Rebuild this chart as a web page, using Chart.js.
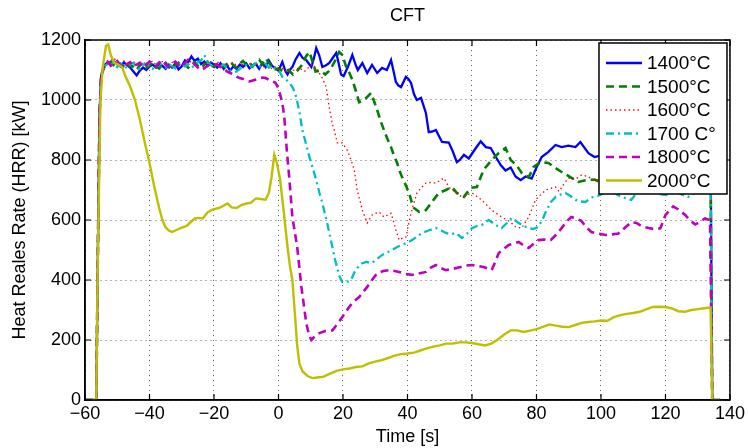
<!DOCTYPE html>
<html lang="en">
<head>
    <meta charset="UTF-8">
    <title>CFT</title>
    <style>
        body {
            margin: 0;
            padding: 0;
            background-color: #fff;
        }

        canvas {
            display: block;
        }
    </style>
</head>
<body>
    <canvas id="hrrChart" width="748" height="448"></canvas>

    <script src="https://cdn.jsdelivr.net/npm/chart.js"></script>
    <script>
        // series labels, same order as the legend
        const seriesNames = ['1400°C', '1500°C', '1600°C', '1700 C°', '1800°C', '2000°C'];

        const xTicks = { min: -60, max: 140, step: 20 };
        const yTicks = { min: 0, max: 1200, step: 200 };

        // [time s, HRR kW] pairs
        const hrr1400 = [[-60,0],[-56.5,0],[-56,500],[-55.5,950],[-55,1080],
            [-54,1115],[-53,1125],[-52,1118],[-51,1128],[-50,1120],[-49,1112],[-48,1125],[-47,1118],[-46,1108],[-45,1095],
            [-44,1082],[-43,1098],[-42,1108],[-41,1100],[-40,1112],[-39,1118],[-38,1108],[-37,1120],[-36,1114],[-35,1104],
            [-34,1118],[-33,1108],[-32,1122],[-31,1102],[-30,1112],[-29,1132],[-28,1126],[-27,1145],[-26,1130],[-25,1138],
            [-24,1120],[-23,1128],[-22,1114],[-21,1125],[-20,1118],[-19,1108],[-18,1122],[-17,1104],[-16,1116],[-15,1098],
            [-14,1112],[-13,1104],[-12,1118],[-11,1110],[-10,1122],[-9,1106],[-8,1115],[-7,1120],[-6,1104],[-5,1124],
            [-4,1110],[-3,1132],[-2,1114],[-1,1106],[0,1098],[1.2,1127],[2.2,1095],[2.8,1085],[3.5,1100],[4.3,1110],
            [5.3,1135],[6.5,1157],[7.5,1140],[8.6,1133],[9.5,1120],[10.2,1110],[11,1140],[11.7,1173],[12.6,1150],[13.6,1110],
            [14.6,1115],[15.7,1123],[16.8,1140],[17.9,1157],[18.5,1130],[19.4,1085],[20.2,1080],[21.5,1110],[22.9,1150],[24,1115],
            [24.6,1100],[26,1123],[27.5,1090],[29,1117],[30.6,1090],[32.1,1107],[33.6,1100],[34.9,1133],[35.8,1090],[36.4,1060],
            [37.2,1048],[38,1043],[39.5,1077],[40.3,1070],[41.1,1057],[42,1020],[42.9,1000],[44.2,1007],[45.7,957],[46.6,893],
            [47.8,895],[48.8,900],[50.7,860],[52.8,858],[54,830],[55.3,793],[56.2,800],[57.5,817],[59,805],[61.2,840],
            [62.7,862],[64.3,843],[65.8,840],[67.4,810],[68.9,783],[70.4,765],[72,775],[73.5,745],[75.1,733],[76.6,745],
            [78.5,738],[80,775],[81.6,810],[83.7,827],[85.9,850],[87.8,843],[89.9,848],[92.1,843],[93.6,860],[96.1,823],
            [98,810],[100,815],[102,805],[104,825],[106,800],[108,815],[110,790],[112,810],[114,830],[116,815],
            [118,840],[120,820],[122,810],[124,835],[126,820],[128,805],[130,825],[132,815],[134,820],[134.5,0],[137,0]];

        const hrr1500 = [[-60,0],[-56.5,0],[-56,500],[-55.5,950],[-55,1080],
            [-54,1110],[-53,1122],[-52,1128],[-51,1115],[-50,1108],[-49,1120],[-48,1112],[-47,1104],[-46,1118],[-45,1110],
            [-44,1100],[-43,1115],[-42,1122],[-41,1108],[-40,1114],[-39,1126],[-38,1112],[-37,1105],[-36,1118],[-35,1124],
            [-34,1110],[-33,1102],[-32,1116],[-31,1124],[-30,1112],[-29,1118],[-28,1108],[-27,1120],[-26,1126],[-25,1114],
            [-24,1106],[-23,1118],[-22,1128],[-21,1116],[-20,1110],[-19,1120],[-18,1126],[-17,1112],[-16,1120],[-15,1128],
            [-14,1116],[-13,1108],[-12,1122],[-11,1130],[-10,1118],[-9,1124],[-8,1112],[-7,1126],[-6,1134],[-5,1120],
            [-4,1138],[-3,1125],[-2,1110],[-1,1102],[0,1105],[1.5,1095],[3,1100],[4.5,1085],[6,1100],[7.5,1120],
            [8.5,1145],[9.6,1160],[10.5,1130],[11.5,1095],[13,1098],[14.5,1085],[16,1100],[17.5,1130],[18.8,1160],[19.8,1150],
            [21,1110],[22,1090],[22.9,1067],[24,1030],[25,993],[26,998],[27.2,1007],[28.7,1023],[29.5,1000],[30.6,967],
            [31.5,935],[32.7,900],[33.8,870],[34.9,843],[35.8,815],[36.8,790],[37.5,765],[38.3,743],[39.5,715],[40.5,690],
            [41.3,660],[42,640],[43.6,627],[45.7,633],[47.6,660],[49.7,690],[51.9,700],[53.8,710],[55.3,690],[57.5,677],
            [59.6,707],[61.5,710],[63.6,767],[66.1,800],[68.3,823],[70.4,840],[72,800],[73.8,783],[75.4,757],[77.6,743],
            [79.1,777],[81.3,793],[83.7,790],[85.9,773],[87.8,760],[90.5,743],[93,727],[95.5,733],[98,735],[100,725],
            [102,720],[104,728],[106,715],[108,722],[110,710],[112,718],[114,725],[116,712],[118,720],[120,715],
            [122,708],[124,720],[126,715],[128,710],[130,718],[132,712],[134,715],[134.5,0],[137,0]];

        const hrr1600 = [[-60,0],[-56.5,0],[-56,500],[-55.5,950],[-55,1085],
            [-54,1120],[-53,1128],[-52,1132],[-51,1140],[-50,1125],[-49,1118],[-48,1130],[-47,1122],[-46,1115],[-45,1128],
            [-44,1120],[-43,1112],[-42,1126],[-41,1118],[-40,1124],[-39,1130],[-38,1116],[-37,1122],[-36,1128],[-35,1118],
            [-34,1112],[-33,1125],[-32,1130],[-31,1120],[-30,1114],[-29,1126],[-28,1122],[-27,1130],[-26,1118],[-25,1124],
            [-24,1132],[-23,1120],[-22,1114],[-21,1126],[-20,1120],[-19,1128],[-18,1116],[-17,1122],[-16,1112],[-15,1120],
            [-14,1126],[-13,1114],[-12,1110],[-11,1120],[-10,1116],[-9,1124],[-8,1112],[-7,1118],[-6,1122],[-5,1108],
            [-4,1116],[-3,1112],[-2,1104],[-1,1110],[0,1102],[1,1108],[2,1096],[3,1104],[4,1098],[5,1100],
            [6.5,1108],[8,1095],[9.5,1110],[10.5,1120],[12,1100],[13.5,1075],[14.8,1043],[15.7,977],[16.7,920],[17.3,900],
            [18.2,857],[19.8,857],[21.3,833],[22.5,800],[23.5,767],[24.4,700],[26,633],[27.5,590],[29,617],[31.2,627],
            [32.7,610],[34.9,623],[35.8,590],[36.4,567],[37.4,533],[38.5,540],[39.5,543],[41.1,623],[42.9,690],[44.5,710],
            [45.7,723],[47,725],[48.8,723],[51.3,740],[52.8,710],[55,690],[56.9,677],[60,690],[63,667],[66.1,633],
            [69.2,610],[72,593],[73.5,577],[75.4,573],[77.6,610],[79.7,667],[82.8,700],[85.9,710],[87,695],[88.5,720],
            [89.9,740],[92,735],[94,750],[96,745],[98,730],[100,740],[102,755],[104,735],[106,745],[108,730],
            [110,750],[112,740],[114,755],[116,745],[118,735],[120,750],[122,760],[124,740],[126,750],[128,735],
            [130,745],[132,755],[134,740],[134.5,0],[137,0]];

        const hrr1700 = [[-60,0],[-56.5,0],[-56,500],[-55.5,950],[-55,1080],
            [-54,1112],[-53,1120],[-52,1126],[-51,1116],[-50,1110],[-49,1122],[-48,1114],[-47,1106],[-46,1118],[-45,1124],
            [-44,1110],[-43,1104],[-42,1116],[-41,1122],[-40,1110],[-39,1104],[-38,1118],[-37,1126],[-36,1114],[-35,1108],
            [-34,1120],[-33,1112],[-32,1106],[-31,1118],[-30,1124],[-29,1112],[-28,1120],[-27,1108],[-26,1114],[-25,1126],
            [-24,1132],[-23,1150],[-22,1128],[-21,1116],[-20,1110],[-19,1120],[-18,1112],[-17,1118],[-16,1106],[-15,1098],
            [-14,1092],[-13,1095],[-12,1104],[-11,1112],[-10,1116],[-9,1108],[-8,1114],[-7,1122],[-6,1110],[-5,1116],
            [-4,1120],[-3,1108],[-2,1114],[-1,1104],[0.3,1095],[1.2,1077],[2.2,1070],[3.4,1057],[4.5,1040],[5.5,1010],
            [6.5,960],[7.4,900],[8.5,855],[9.6,810],[10.7,770],[11.7,733],[12.7,690],[13.6,657],[14.4,620],[15.1,590],
            [16,545],[16.7,510],[17.5,470],[18.2,440],[19,410],[19.8,393],[21,392],[22.5,400],[23.5,425],[24.4,440],
            [25.8,455],[27.2,460],[29,457],[30.5,470],[32.1,483],[33.7,492],[35.2,500],[36.8,510],[38.3,517],[40,525],
            [41.4,533],[43,545],[44.5,557],[46.5,565],[48.8,573],[50.5,565],[51.9,557],[53.5,552],[55,557],[56.9,540],
            [58.5,555],[60,573],[61.5,580],[63,583],[65.2,600],[67.4,583],[69.2,573],[70.8,590],[72.3,607],[74.5,590],
            [76,580],[77.6,573],[79,570],[80.6,577],[82,605],[83.1,633],[84.5,660],[85.9,677],[87.5,685],[89,690],
            [90.5,680],[92.1,667],[93.5,662],[95.2,660],[97,675],[99,680],[101,690],[103,700],[105,685],[106.3,677],
            [108,672],[109.4,667],[111,690],[113,705],[115,700],[117,690],[119,685],[120.8,683],[123,695],[125,685],
            [127,677],[129,690],[131,700],[133,690],[134,688],[134.5,0],[137,0]];

        const hrr1800 = [[-60,0],[-56.5,0],[-56,500],[-55.5,950],[-55,1080],
            [-54,1118],[-53,1128],[-52,1114],[-51,1122],[-50,1130],[-49,1116],[-48,1108],[-47,1120],[-46,1126],[-45,1112],
            [-44,1118],[-43,1124],[-42,1110],[-41,1116],[-40,1128],[-39,1120],[-38,1112],[-37,1124],[-36,1132],[-35,1118],
            [-34,1110],[-33,1122],[-32,1128],[-31,1116],[-30,1110],[-29,1124],[-28,1134],[-27,1130],[-26,1118],[-25,1108],
            [-24,1100],[-23,1106],[-22,1114],[-21,1120],[-20,1118],[-19,1118],[-18,1110],[-17,1108],[-16,1095],[-15,1090],
            [-14,1085],[-13,1078],[-12,1073],[-11,1070],[-10,1065],[-9,1062],[-8,1065],[-7,1068],[-6,1072],[-5,1075],
            [-4,1073],[-3,1068],[-2,1062],[-1,1058],[-0.3,1045],[0.3,1027],[1.2,990],[1.8,943],[2.5,843],[3.4,733],
            [4.3,610],[5.8,510],[7.1,377],[8.6,257],[9.5,215],[10.2,200],[11.5,215],[12.7,223],[14.5,230],[16.7,232],
            [18,250],[19.8,277],[21.9,310],[23.5,330],[25,343],[27.5,377],[29,400],[30.6,423],[32.5,430],[34.3,433],
            [36,430],[37.4,427],[39.5,420],[41.4,417],[43.5,422],[45.7,427],[47,440],[48.8,450],[50.3,440],[51.9,433],
            [54,437],[56.5,443],[58,448],[60,450],[61.8,447],[63.6,443],[65,438],[66.1,433],[67.2,460],[68.3,490],
            [70,505],[71.4,517],[73,522],[74.5,527],[76,515],[77.6,507],[79,520],[80.6,533],[82.5,535],[84.4,533],
            [86,550],[87.8,573],[89.3,595],[90.8,610],[92.3,605],[93.9,597],[95.5,575],[97,560],[99,555],[101.4,550],
            [103.5,552],[105.4,555],[107.5,575],[109.4,593],[111,590],[112.5,580],[114.7,573],[116.5,570],[118.4,572],[120,617],
            [122.4,645],[124,635],[126.1,617],[127.5,600],[129.2,585],[130.8,595],[132.3,605],[133.8,600],[134.5,0],[137,0]];

        const hrr2000 = [[-60,0],[-56.5,0],[-56,500],[-55.2,1000],[-54.5,1110],[-53.5,1180],[-52.8,1185],[-52,1150],
            [-51,1125],[-50,1120],[-48.5,1110],[-47.5,1080],[-46,1045],[-44.5,1000],[-43,935],[-41.5,860],[-40,790],[-38.5,710],
            [-37,640],[-36,600],[-35,575],[-34,565],[-33,560],[-32,565],[-30,575],[-28.5,580],[-27,595],[-26,605],
            [-24.5,607],[-23.5,605],[-22,625],[-20.5,635],[-18.5,640],[-17,648],[-15.8,655],[-14.5,642],[-13,640],[-11.5,650],
            [-10,655],[-8.5,658],[-7,672],[-5.5,670],[-4,668],[-3,690],[-2.2,740],[-1.3,818],[-0.5,790],[0.5,735],
            [1.5,640],[2.8,510],[3.5,450],[4.3,400],[5,300],[5.8,180],[6.5,120],[7.5,95],[9,80],[10.5,73],
            [12,75],[14,78],[16,88],[18,97],[20,102],[22,105],[24,110],[26,112],[28,122],[30,128],
            [32,133],[34,140],[36,148],[38,153],[40,155],[42,158],[44,165],[46,172],[48,178],[50,182],
            [52,188],[54,188],[56,192],[58,192],[60,190],[62,186],[64,182],[66,188],[68,202],[70,218],
            [72,232],[74,232],[76,227],[78,231],[80,236],[82,244],[84,252],[86,248],[88,244],[90,243],
            [92,250],[94,257],[96,260],[98,262],[100,265],[102,264],[104,276],[106,283],[108,287],[110,290],
            [112,294],[114,302],[116,310],[118,311],[120,310],[122,305],[124,296],[126,294],[128,300],[130,303],
            [132,306],[134,308],[134.5,0],[137,0]];

        const allSeries = [hrr1400, hrr1500, hrr1600, hrr1700, hrr1800, hrr2000];
        const colors = ['#0000ff', '#008000', '#ff0000', '#00bfbf', '#bf00bf', '#bfbf00'];
        const dashes = [[], [8, 5], [1.5, 3], [8, 4, 2, 4], [8, 5], []];
        const widths = [2.3, 2.6, 1.3, 2.3, 2.6, 2.4];

        const FONT = '"Liberation Sans", Arial, Helvetica, sans-serif';

        const datasets = allSeries.map((s, i) => ({
            label: seriesNames[i],
            data: s.map(p => ({ x: p[0], y: p[1] })),
            borderColor: colors[i],
            borderDash: dashes[i],
            borderWidth: widths[i],
            pointRadius: 0,
            tension: 0,
            fill: false,
            order: allSeries.length - i
        }));

        // MATLAB-like box, inward ticks and legend inside the axes
        const matlabFrame = {
            id: 'matlabFrame',
            afterDraw(chart) {
                const { ctx, chartArea: a, scales } = chart;
                ctx.save();
                ctx.strokeStyle = '#000';
                ctx.lineWidth = 1.5;
                ctx.strokeRect(a.left, a.top, a.right - a.left, a.bottom - a.top);

                ctx.lineWidth = 1.2;
                ctx.beginPath();
                scales.x.ticks.forEach(t => {
                    const px = scales.x.getPixelForValue(t.value);
                    ctx.moveTo(px, a.bottom); ctx.lineTo(px, a.bottom - 6);
                    ctx.moveTo(px, a.top); ctx.lineTo(px, a.top + 6);
                });
                scales.y.ticks.forEach(t => {
                    const py = scales.y.getPixelForValue(t.value);
                    ctx.moveTo(a.left, py); ctx.lineTo(a.left + 6, py);
                    ctx.moveTo(a.right, py); ctx.lineTo(a.right - 6, py);
                });
                ctx.stroke();

                // legend
                const bx = a.right - 131, by = a.top + 3, bw = 128, bh = 151;
                ctx.fillStyle = '#fff';
                ctx.fillRect(bx, by, bw, bh);
                ctx.lineWidth = 1.5;
                ctx.strokeStyle = '#000';
                ctx.strokeRect(bx, by, bw, bh);
                ctx.font = '19px ' + FONT;
                ctx.textBaseline = 'middle';
                chart.data.datasets.forEach((ds, i) => {
                    const cy = by + 20 + i * 23.5;
                    ctx.strokeStyle = ds.borderColor;
                    ctx.lineWidth = ds.borderWidth;
                    ctx.setLineDash(ds.borderDash);
                    ctx.beginPath();
                    ctx.moveTo(bx + 7, cy);
                    ctx.lineTo(bx + 43, cy);
                    ctx.stroke();
                    ctx.setLineDash([]);
                    ctx.fillStyle = '#000';
                    ctx.fillText(ds.label, bx + 48, cy + 1);
                });
                ctx.restore();
            }
        };

        const minus = v => String(v).replace('-', '\u2212');

        new Chart(document.getElementById('hrrChart'), {
            type: 'line',
            data: { datasets: datasets },
            plugins: [matlabFrame],
            options: {
                responsive: false,
                animation: false,
                devicePixelRatio: 1,
                layout: { padding: { left: 0, right: 16, top: 0, bottom: 0 } },
                plugins: {
                    legend: { display: false },
                    tooltip: { enabled: false },
                    title: {
                        display: true,
                        text: 'CFT',
                        color: '#000',
                        fullSize: false,
                        font: { family: FONT, size: 18, weight: 'normal' },
                        padding: { top: 5, bottom: 13.4 }
                    }
                },
                scales: {
                    x: {
                        type: 'linear',
                        min: xTicks.min,
                        max: xTicks.max,
                        afterFit: s => { s.height = 48; },
                        ticks: {
                            stepSize: xTicks.step,
                            color: '#000',
                            padding: 3,
                            maxRotation: 0,
                            font: { family: FONT, size: 18 },
                            callback: v => minus(v)
                        },
                        grid: { color: 'rgba(0,0,0,0.6)', lineWidth: 1, drawTicks: false },
                        border: { display: true, color: '#000', width: 1.5, dash: [1, 4] },
                        title: {
                            display: true,
                            text: 'Time [s]',
                            color: '#000',
                            font: { family: FONT, size: 18 },
                            padding: { top: 0, bottom: 0 }
                        }
                    },
                    y: {
                        min: yTicks.min,
                        max: yTicks.max,
                        afterFit: s => { s.width = 85; },
                        ticks: {
                            stepSize: yTicks.step,
                            color: '#000',
                            padding: 4,
                            font: { family: FONT, size: 18 },
                            callback: v => String(v)
                        },
                        grid: { color: 'rgba(0,0,0,0.6)', lineWidth: 1, drawTicks: false },
                        border: { display: true, color: '#000', width: 1.5, dash: [1, 4] },
                        title: {
                            display: true,
                            text: 'Heat Reales Rate (HRR) [kW]',
                            color: '#000',
                            font: { family: FONT, size: 18 },
                            padding: { top: 9, bottom: 0 }
                        }
                    }
                }
            }
        });
    </script>
</body>
</html>
